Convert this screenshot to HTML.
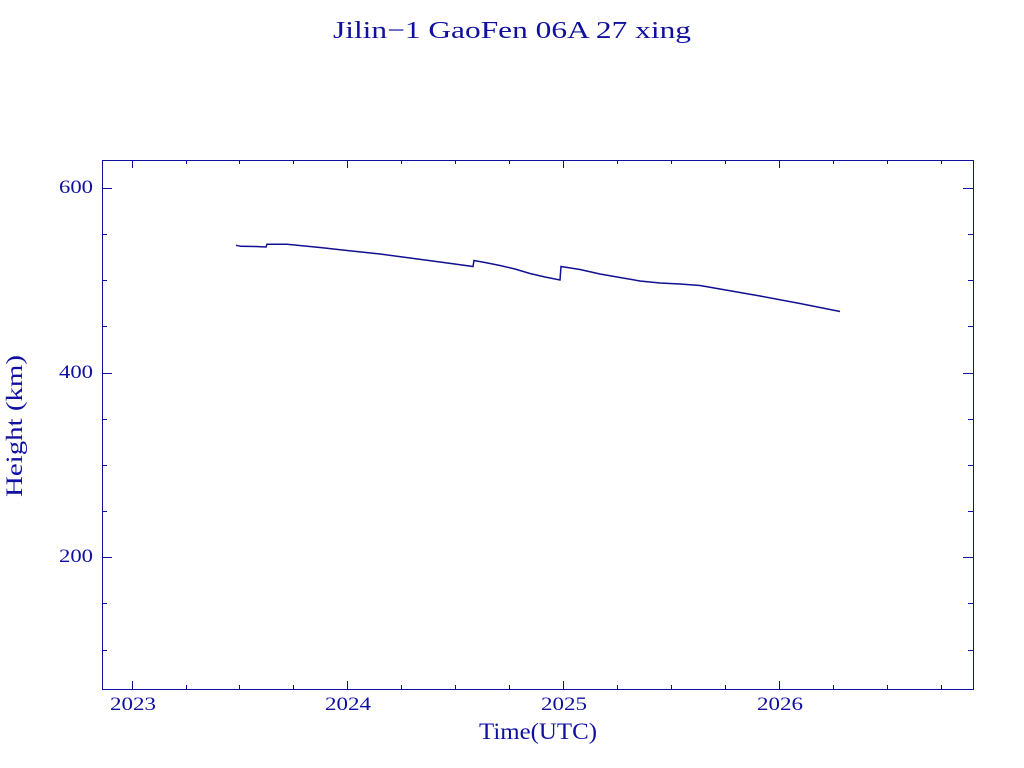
<!DOCTYPE html>
<html><head><style>body{margin:0;background:#fff}svg{display:block}</style></head><body>
<svg width="1024" height="768" xmlns="http://www.w3.org/2000/svg" font-family="Liberation Serif, serif" fill="#1010a0">
<text x="333" y="38" font-size="24" textLength="358" lengthAdjust="spacingAndGlyphs">Jilin−1 GaoFen 06A 27 xing</text>
<rect x="102.5" y="160.5" width="871" height="529" fill="none" stroke="#1010a0" stroke-width="1"/>
<g stroke="#1010a0" stroke-width="1">
<path d="M132.5 689V681M347.5 689V681M563.5 689V681M779.5 689V681M132.5 160V168M347.5 160V168M563.5 160V168M779.5 160V168
M186.5 689V685M239.5 689V685M293.5 689V685M401.5 689V685M455.5 689V685M509.5 689V685M617.5 689V685M671.5 689V685M725.5 689V685M833.5 689V685M887.5 689V685M941.5 689V685
M186.5 160V164M239.5 160V164M293.5 160V164M401.5 160V164M455.5 160V164M509.5 160V164M617.5 160V164M671.5 160V164M725.5 160V164M833.5 160V164M887.5 160V164M941.5 160V164
M102 188.5H112M102 373.5H112M102 557.5H112M973 188.5H963M973 373.5H963M973 557.5H963
M102 234.5H107M102 280.5H107M102 326.5H107M102 419.5H107M102 465.5H107M102 511.5H107M102 603.5H107M102 650.5H107
M973 234.5H968M973 280.5H968M973 326.5H968M973 419.5H968M973 465.5H968M973 511.5H968M973 603.5H968M973 650.5H968"/>
</g>
<polyline fill="none" stroke="#101090" stroke-width="1.5" points="236,245.3 241,246.3 256,246.5 266,247 267,244.3 287,244.3 297,245.3 320,247.5 347,250.5 380,254 410,258 440,262 473,266.5 474,260.5 485,262.5 500,265.5 515,269 530,273.5 545,277 560,280 561,266.5 580,269.5 600,274 620,277.5 640,281 660,283 680,284 700,285.5 720,289 740,292.5 760,296 800,303.5 840,311.5"/>
<g font-size="19">
<text x="110" y="710" textLength="46" lengthAdjust="spacingAndGlyphs">2023</text>
<text x="325" y="710" textLength="46" lengthAdjust="spacingAndGlyphs">2024</text>
<text x="541" y="710" textLength="46" lengthAdjust="spacingAndGlyphs">2025</text>
<text x="757" y="710" textLength="46" lengthAdjust="spacingAndGlyphs">2026</text>
<text x="59" y="193" textLength="34" lengthAdjust="spacingAndGlyphs">600</text>
<text x="59" y="378" textLength="34" lengthAdjust="spacingAndGlyphs">400</text>
<text x="59" y="562" textLength="34" lengthAdjust="spacingAndGlyphs">200</text>
</g>
<text x="479" y="739" font-size="23" textLength="118" lengthAdjust="spacingAndGlyphs">Time(UTC)</text>
<text transform="translate(22,497) rotate(-90)" font-size="23" textLength="142" lengthAdjust="spacingAndGlyphs">Height (km)</text>
</svg>
</body></html>
